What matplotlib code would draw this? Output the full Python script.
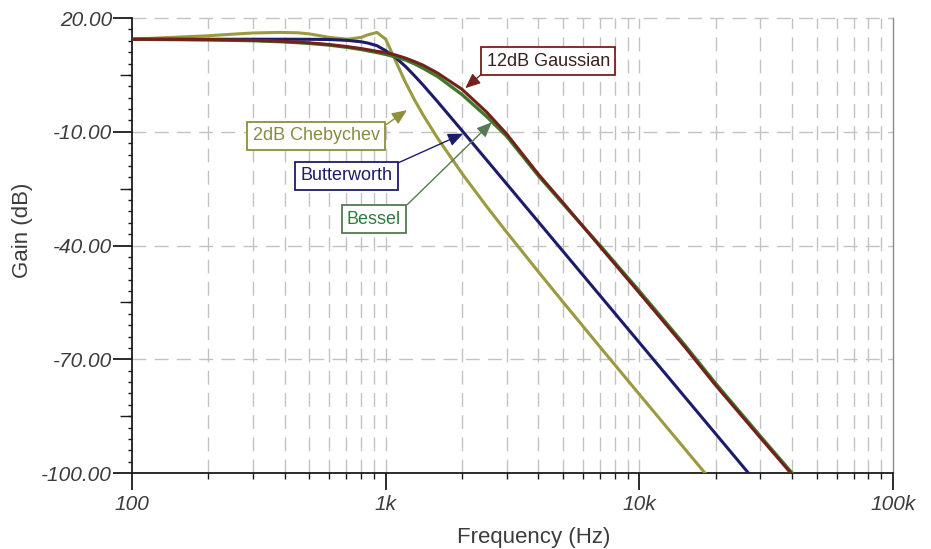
import numpy as np
import matplotlib
matplotlib.use("Agg")
import matplotlib.pyplot as plt
from matplotlib.ticker import FixedLocator, NullFormatter, LogLocator

plt.rcParams['font.family'] = ['Liberation Sans', 'DejaVu Sans']

# Frequency grid (Hz) shared by all curves
freq = [100, 150, 200, 250, 300, 383, 450, 500, 600, 707, 800, 850, 924, 1000,
        1100, 1200, 1300, 1400, 1600, 2000, 2500, 3000, 4000, 5000, 7000,
        10000, 15000, 20000, 30000, 40000]

# Gain (dB) of each 4th-order low-pass response
cheby_db = [14.40, 14.95, 15.32, 15.74, 16.05, 16.20, 16.10, 15.81, 14.89, 14.40,
            14.89, 15.56, 16.20, 14.40, 8.35, 2.87, -1.62, -5.41, -11.63, -21.01,
            -29.69, -36.49, -46.94, -54.90, -66.76, -79.25, -93.38, -103.39,
            -117.5, -127.5]
butter_db = [14.40, 14.40, 14.40, 14.40, 14.40, 14.40, 14.39, 14.38, 14.33, 14.10,
             13.73, 13.40, 12.70, 11.39, 9.43, 7.16, 4.75, 2.42, -2.03, -9.70,
             -17.44, -23.77, -33.76, -41.52, -53.21, -65.60, -79.69, -89.68,
             -103.77, -113.7]
bessel_db = [14.40, 14.30, 14.22, 14.12, 14.02, 13.75, 13.50, 13.30, 12.85, 12.25,
             11.70, 11.35, 10.90, 10.40, 9.70, 8.90, 7.90, 6.80, 4.60, -0.20,
             -6.00, -11.20, -21.60, -29.00, -40.00, -52.00, -66.00, -76.40,
             -90.30, -100.0]
gauss_db = [14.40, 14.35, 14.30, 14.22, 14.12, 13.88, 13.65, 13.45, 13.00, 12.45,
            11.95, 11.65, 11.20, 10.90, 10.20, 9.40, 8.50, 7.60, 5.50, 1.20,
            -4.80, -10.60, -21.20, -28.70, -40.30, -52.50, -66.50, -76.90,
            -90.70, -100.4]

x_ticks = [100, 1000, 10000, 100000]
x_ticklabels = ['100', '1k', '10k', '100k']
y_ticks = [20, -10, -40, -70, -100]
y_ticklabels = ['20.00', '-10.00', '-40.00', '-70.00', '-100.00']

c_cheby = '#9a9a40'
c_butter = '#1c1c6a'
c_bessel = '#3f7a2c'
c_gauss = '#72221a'
txt_gray = '#3c3c3c'

fig = plt.figure(figsize=(9.31, 5.49), dpi=100)
ax = fig.add_axes([0.1418, 0.1384, 0.8174, 0.8288])
ax.set_xscale('log')
ax.set_xlim(100, 100000)
ax.set_ylim(-100, 20)

# grid: dashed verticals at every decade step, horizontals at labelled levels
for f in [m * 10 ** e for e in (2, 3, 4) for m in range(1, 10)][1:]:
    ax.axvline(f, color='#c2c2c2', lw=1.0, ls=(0, (10, 6)), zorder=0)
for g in [20, -10, -40, -70]:
    ax.axhline(g, color='#c2c2c2', lw=1.0, ls=(0, (10, 6)), zorder=0, clip_on=False)

ax.plot(freq, cheby_db, color=c_cheby, lw=2.2, zorder=3)
ax.plot(freq, butter_db, color=c_butter, lw=2.2, zorder=3)
ax.plot(freq, bessel_db, color=c_bessel, lw=2.4, zorder=4)
ax.plot(freq, gauss_db, color=c_gauss, lw=2.2, zorder=5)

ax.spines['top'].set_visible(False)
ax.spines['right'].set_color('#8a8a8a')
ax.spines['right'].set_linewidth(1.0)
for s in ['left', 'bottom']:
    ax.spines[s].set_color('#1a1a1a')
    ax.spines[s].set_linewidth(1.3)

ax.xaxis.set_major_locator(FixedLocator(x_ticks))
ax.set_xticklabels(x_ticklabels)
ax.xaxis.set_minor_locator(LogLocator(base=10, subs=range(2, 10)))
ax.xaxis.set_minor_formatter(NullFormatter())
ax.yaxis.set_major_locator(FixedLocator(y_ticks))
ax.set_yticklabels(y_ticklabels)
ax.yaxis.set_minor_locator(FixedLocator(np.arange(-100, 21, 3)))

ax.tick_params(axis='x', which='major', length=12, width=1.3, color='#1a1a1a',
               labelsize=15, labelcolor=txt_gray, pad=4)
ax.tick_params(axis='x', which='minor', length=4.5, width=1.0, color='#1a1a1a')
ax.tick_params(axis='y', which='major', length=13.5, width=1.3, color='#1a1a1a',
               labelsize=15, labelcolor=txt_gray, pad=1)
ax.tick_params(axis='y', which='minor', length=3.0, width=1.0, color='#1a1a1a')
for lab in ax.get_xticklabels() + ax.get_yticklabels():
    lab.set_fontstyle('italic')

# half-step ticks on the gain axis
sec = ax.secondary_yaxis('left')
sec.set_yticks([5, -25, -55, -85])
sec.tick_params(axis='y', length=9, width=1.0, color='#1a1a1a', labelleft=False)
sec.spines['left'].set_visible(False)

ax.set_xlabel('Frequency (Hz)', fontsize=16, color=txt_gray, va='center')
ax.xaxis.set_label_coords(0.528, -0.141)
ax.set_ylabel('Gain (dB)', fontsize=16, color=txt_gray, va='center')
ax.yaxis.set_label_coords(-0.1445, 0.534)


def label(text, tip, box_xy, color, tcolor, relpos):
    ax.annotate(text, xy=tip, xycoords='data', xytext=box_xy,
                textcoords='axes fraction', ha='center', va='center',
                fontsize=13, color=tcolor, zorder=10,
                bbox=dict(boxstyle='square,pad=0.3', fc='white', ec=color, lw=1.3),
                arrowprops=dict(arrowstyle='-|>,head_length=0.7,head_width=0.3',
                                color=color, lw=1.0, relpos=relpos,
                                shrinkA=0, shrinkB=0))


label('12dB Gaussian', (2060, 1.5), (0.547, 0.905), c_gauss, '#3a1f1f', (0.0, 0.0))
label('2dB Chebychev', (1213, -4.3), (0.242, 0.741), '#8f8f3a', '#8a8a40', (1.0, 0.9))
label('Butterworth', (2020, -10.5), (0.282, 0.653), c_butter, c_butter, (0.95, 1.0))
label('Bessel', (2620, -7.5), (0.318, 0.558), '#557a55', '#2f7a3a', (1.0, 1.0))

fig.savefig('out.png', dpi=100, facecolor='white')
